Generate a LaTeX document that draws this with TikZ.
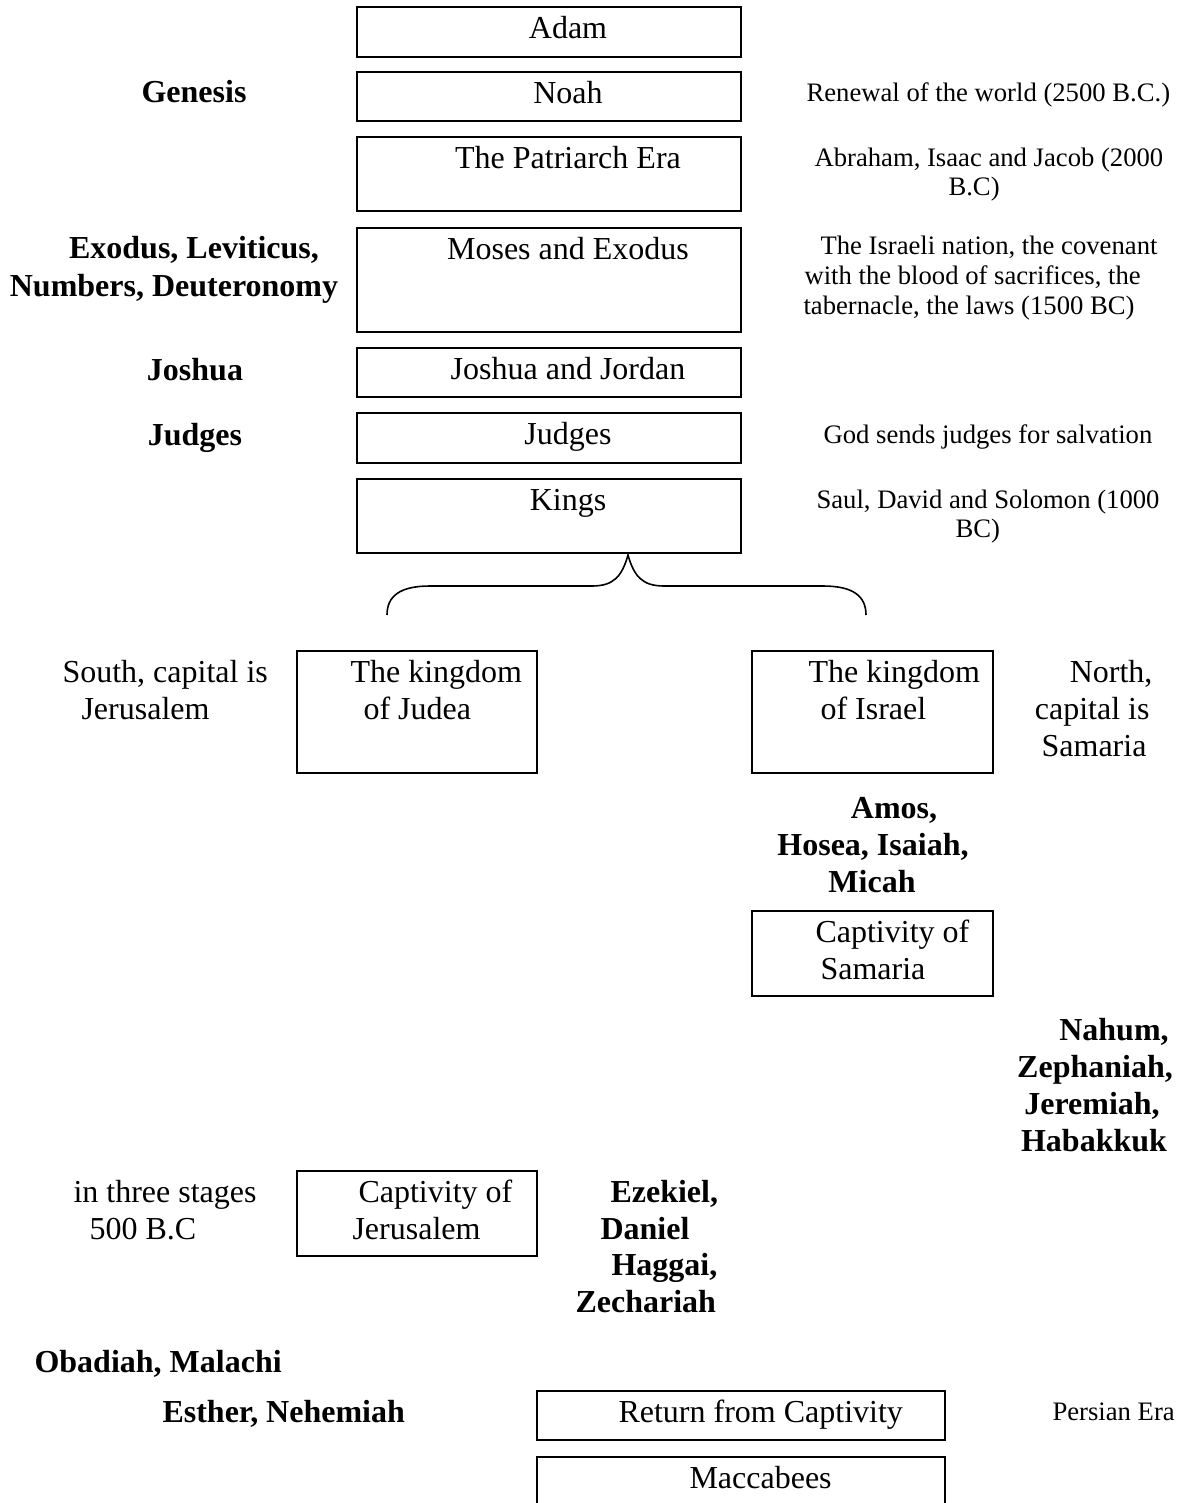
\documentclass[tikz,border=0pt]{standalone}
\usepackage{fontspec}
\setmainfont{Liberation Serif}
\begin{document}
\begin{tikzpicture}[x=0.375pt,y=-0.375pt,
  box/.style={draw, line width=0.9pt, inner sep=0pt, outer sep=0pt},
  big/.style={font=\fontsize{12}{13.8}\selectfont, inner sep=0pt, anchor=base west},
  bigc/.style={big, anchor=base},
  bold/.style={font=\fontsize{12}{13.8}\selectfont\bfseries, inner sep=0pt, anchor=base west},
  boldc/.style={bold, anchor=base},
  small/.style={font=\fontsize{10}{11.5}\selectfont, inner sep=0pt, anchor=base west},
  bracestyle/.style={line width=0.6pt}]
\useasboundingbox (0,0) rectangle (1178,1503);
\clip (0,0) rectangle (1178,1503);
% top column boxes
\node[box, minimum width=144pt, minimum height=18.75pt] (adam) at (549,32) {};
\node[box, minimum width=144pt, minimum height=18.375pt] (noah) at (549,96.5) {};
\node[box, minimum width=144pt, minimum height=27.75pt] (patr) at (549,174) {};
\node[box, minimum width=144pt, minimum height=39pt] (moses) at (549,280) {};
\node[box, minimum width=144pt, minimum height=18.375pt] (joshua) at (549,372.5) {};
\node[box, minimum width=144pt, minimum height=18.75pt] (judges) at (549,438) {};
\node[box, minimum width=144pt, minimum height=27.75pt] (kings) at (549,516) {};
% box texts
\node[bigc] (tadam) at (568,38) {Adam};
\node[bigc] (tnoah) at (568,103) {Noah};
\node[bigc] (tpatr) at (568,168) {The Patriarch Era};
\node[bigc] (tmoses) at (568,259) {Moses and Exodus};
\node[bigc] (tjoshua) at (568,379) {Joshua and Jordan};
\node[bigc] (tjudges) at (568,444) {Judges};
\node[bigc] (tkings) at (568,510) {Kings};
% left bold labels
\node[boldc] (genesis) at (194,102) {Genesis};
\node[boldc] (exodus) at (194,258) {Exodus, Leviticus,};
\node[boldc] (numbers) at (174,296) {Numbers, Deuteronomy};
\node[boldc] (ljoshua) at (195,380) {Joshua};
\node[boldc] (ljudges) at (195,445) {Judges};
% right descriptions
\node[small] (renewal) at (806,101) {Renewal of the world (2500 B.C.)};
\node[small] (abraham) at (814,166) {Abraham, Isaac and Jacob (2000};
\node[small] (abraham2) at (948,195) {B.C)};
\node[small] (israeli1) at (820,254) {The Israeli nation, the covenant};
\node[small] (israeli2) at (804,284) {with the blood of sacrifices, the};
\node[small] (israeli3) at (803,314) {tabernacle, the laws (1500 BC)};
\node[small] (godsends) at (823,443) {God sends judges for salvation};
\node[small] (saul1) at (816,508) {Saul, David and Solomon (1000};
\node[small] (saul2) at (955,537) {BC)};
% brace from Kings to the two kingdoms
\coordinate (bl) at (387,615);
\coordinate (bt) at (628,555);
\coordinate (br) at (866,615);
\draw[bracestyle] (bl) .. controls (387,596) and (400,586) .. (430,586)
  -- (592,586) .. controls (614,586) and (622,576) .. (bt)
  .. controls (634,576) and (642,586) .. (664,586)
  -- (823,586) .. controls (853,586) and (866,596) .. (br);
% kingdoms
\node[box, minimum width=90pt, minimum height=45.75pt] (judea) at (417,712) {};
\node[box, minimum width=90.375pt, minimum height=45.75pt] (israel) at (872.5,712) {};
\node[big] (tjudea1) at (350,682) {The kingdom};
\node[big] (tjudea2) at (363,719) {of Judea};
\node[big] (tisrael1) at (808,682) {The kingdom};
\node[big] (tisrael2) at (820,719) {of Israel};
\node[big] (south1) at (62,682) {South, capital is};
\node[big] (south2) at (81,719) {Jerusalem};
\node[big, anchor=base east] (north1) at (1153,682) {North,};
\node[big, anchor=base east] (north2) at (1150,719) {capital is};
\node[big, anchor=base east] (north3) at (1147,756) {Samaria};
% prophets of Israel
\node[boldc] (amos) at (894,818) {Amos,};
\node[boldc] (hosea) at (873,855) {Hosea, Isaiah,};
\node[boldc] (micah) at (872,892) {Micah};
% captivity of Samaria
\node[box, minimum width=90.375pt, minimum height=31.875pt] (capsam) at (872.5,953.5) {};
\node[big] (tcapsam1) at (815,942) {Captivity of};
\node[big] (tcapsam2) at (820,979) {Samaria};
% Nahum group
\node[boldc] (nahum) at (1114,1040) {Nahum,};
\node[boldc] (zeph) at (1095,1077) {Zephaniah,};
\node[boldc] (jer) at (1092,1114) {Jeremiah,};
\node[boldc] (hab) at (1094,1151) {Habakkuk};
% captivity of Jerusalem
\node[box, minimum width=90pt, minimum height=31.875pt] (capjer) at (417,1213.5) {};
\node[big] (tcapjer1) at (358,1202) {Captivity of};
\node[big] (tcapjer2) at (352,1239) {Jerusalem};
\node[big] (stages1) at (73,1202) {in three stages};
\node[big] (stages2) at (89,1239) {500 B.C};
\node[bold] (ezekiel) at (610,1202) {Ezekiel,};
\node[bold] (daniel) at (600,1239) {Daniel};
\node[bold] (haggai) at (611,1275) {Haggai,};
\node[bold] (zech) at (575,1312) {Zechariah};
\node[bold] (obadiah) at (34,1372) {Obadiah, Malachi};
\node[bold] (esther) at (162,1422) {Esther, Nehemiah};
% return and Maccabees
\node[box, minimum width=153pt, minimum height=18.375pt] (ret) at (741,1415.5) {};
\node[box, minimum width=153pt, minimum height=24.75pt] (mac) at (741,1490) {};
\node[big] (tret) at (618,1422) {Return from Captivity};
\node[big] (tmac) at (689,1488) {Maccabees};
\node[small] (persian) at (1052,1420) {Persian Era};
\end{tikzpicture}
\end{document}
